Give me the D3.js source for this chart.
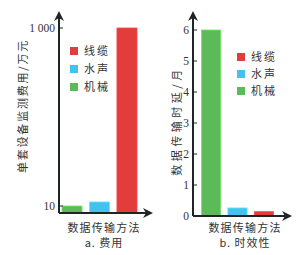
<!DOCTYPE html>
<html lang="zh">
<head>
<meta charset="UTF-8">
<script src="https://d3js.org/d3.v7.min.js"></script>
<style>
  body { margin: 0; background: #fff; }
  .cjk { font-family: "Noto Sans CJK SC", sans-serif; fill: #333; }
  .num { font-family: "Liberation Serif", "DejaVu Serif", serif; fill: #333; font-size: 11.5px; }
  .axis { stroke: #1f2424; stroke-width: 2; fill: none; }
</style>
</head>
<body>
<div id="chart"></div>
<script>
// categories, in bar order (left to right)
const methods = ["机械", "水声", "线缆"];
const legendOrder = ["线缆", "水声", "机械"];
const colors = { "线缆": "#e23c3c", "水声": "#43c2ef", "机械": "#5dba58" };

// a. cost per set of equipment (万元), log-type axis
const costValues = [10, 11.1, 1000];
const costTicks = [10, 1000];
const costTickLabels = ["10", "1 000"];

// b. transmission delay (月)
const delayValues = [6, 0.26, 0.14];
const delayTicks = [0, 1, 2, 3, 4, 5, 6];

const svg = d3.select("#chart").append("svg")
  .attr("width", 301).attr("height", 255);

const defs = svg.append("defs");
defs.append("marker")
  .attr("id", "arrow")
  .attr("viewBox", "0 0 10 10")
  .attr("refX", 8).attr("refY", 5)
  .attr("markerWidth", 5).attr("markerHeight", 5)
  .attr("markerUnits", "strokeWidth")
  .attr("orient", "auto")
  .append("path").attr("d", "M0,0 L10,5 L0,10 L3,5 Z").attr("fill", "#1f2424");

function panel(cfg) {
  const g = svg.append("g");
  const x = d3.scaleBand().domain(methods).range(cfg.xRange).paddingInner(0.27);

  // bars
  g.selectAll("rect.bar").data(methods).enter().append("rect")
    .attr("class", "bar")
    .attr("x", d => x(d))
    .attr("width", x.bandwidth())
    .attr("y", (d, i) => cfg.y(cfg.values[i]))
    .attr("height", (d, i) => cfg.base - cfg.y(cfg.values[i]))
    .attr("fill", d => colors[d])
    .attr("stroke", d => d3.color(colors[d]).brighter(0.6))
    .attr("stroke-width", 0.8);

  // axes with arrows
  g.append("line").attr("class", "axis")
    .attr("x1", cfg.axisX).attr("y1", cfg.base)
    .attr("x2", cfg.axisX).attr("y2", 13)
    .attr("marker-end", "url(#arrow)");
  g.append("line").attr("class", "axis")
    .attr("x1", cfg.axisX).attr("y1", cfg.base)
    .attr("x2", cfg.xEnd).attr("y2", cfg.base)
    .attr("marker-end", "url(#arrow)");

  // ticks
  const t = g.selectAll("g.tick").data(cfg.ticks).enter().append("g")
    .attr("transform", d => `translate(0,${cfg.y(d)})`);
  t.append("line").attr("x1", cfg.axisX).attr("x2", cfg.axisX + 4)
    .attr("stroke", "#1f2424").attr("stroke-width", 1);
  t.append("text").attr("class", "num")
    .attr("x", cfg.axisX - 4).attr("dy", "0.35em")
    .attr("text-anchor", "end")
    .text((d, i) => cfg.tickLabels ? cfg.tickLabels[i] : d);

  // y label
  g.append("text").attr("class", "cjk")
    .attr("transform", `translate(${cfg.yLabelX},${cfg.yLabelY}) rotate(-90)`)
    .attr("text-anchor", "middle").attr("dominant-baseline", "central")
    .style("font-size", "11px")
    .attr("letter-spacing", cfg.yLabelSpacing)
    .text(cfg.yLabel);

  // x label + caption
  const cx = cfg.captionX;
  g.append("text").attr("class", "cjk")
    .attr("x", cx).attr("y", 232)
    .attr("text-anchor", "middle")
    .style("font-size", "11px").attr("letter-spacing", 1.2)
    .text("数据传输方法");
  g.append("text").attr("class", "cjk")
    .attr("x", cx).attr("y", 247)
    .attr("text-anchor", "middle")
    .style("font-size", "11px").attr("letter-spacing", 1)
    .text(cfg.caption);

  // legend
  const lg = g.selectAll("g.leg").data(legendOrder).enter().append("g")
    .attr("transform", (d, i) => `translate(${cfg.legX},${cfg.legY + i * cfg.legStep})`);
  lg.append("rect").attr("x", 0).attr("y", -4).attr("width", 8).attr("height", 8)
    .attr("fill", d => colors[d]);
  lg.append("text").attr("class", "cjk")
    .attr("x", 14).attr("dy", "0.36em")
    .style("font-size", "11px").attr("letter-spacing", 2)
    .text(d => d);
}

// a. 费用
panel({
  values: costValues,
  y: d3.scaleLog().domain([10, 1000]).range([206, 28]),
  base: 213,
  axisX: 59,
  xEnd: 151,
  xRange: [62, 137],
  ticks: costTicks,
  tickLabels: costTickLabels,
  yLabel: "单套设备监测费用/万元",
  yLabelX: 22, yLabelY: 106, yLabelSpacing: 1.8,
  captionX: 104, caption: "a. 费用",
  legX: 70, legY: 51, legStep: 18
});

// b. 时效性
panel({
  values: delayValues,
  y: d3.scaleLinear().domain([0, 6]).range([216, 30]),
  base: 216,
  axisX: 193,
  xEnd: 290,
  xRange: [201.5, 273.5],
  ticks: delayTicks,
  yLabel: "数据传输时延/月",
  yLabelX: 176, yLabelY: 121, yLabelSpacing: 3.5,
  captionX: 245, caption: "b. 时效性",
  legX: 237, legY: 57, legStep: 17
});
</script>
</body>
</html>
